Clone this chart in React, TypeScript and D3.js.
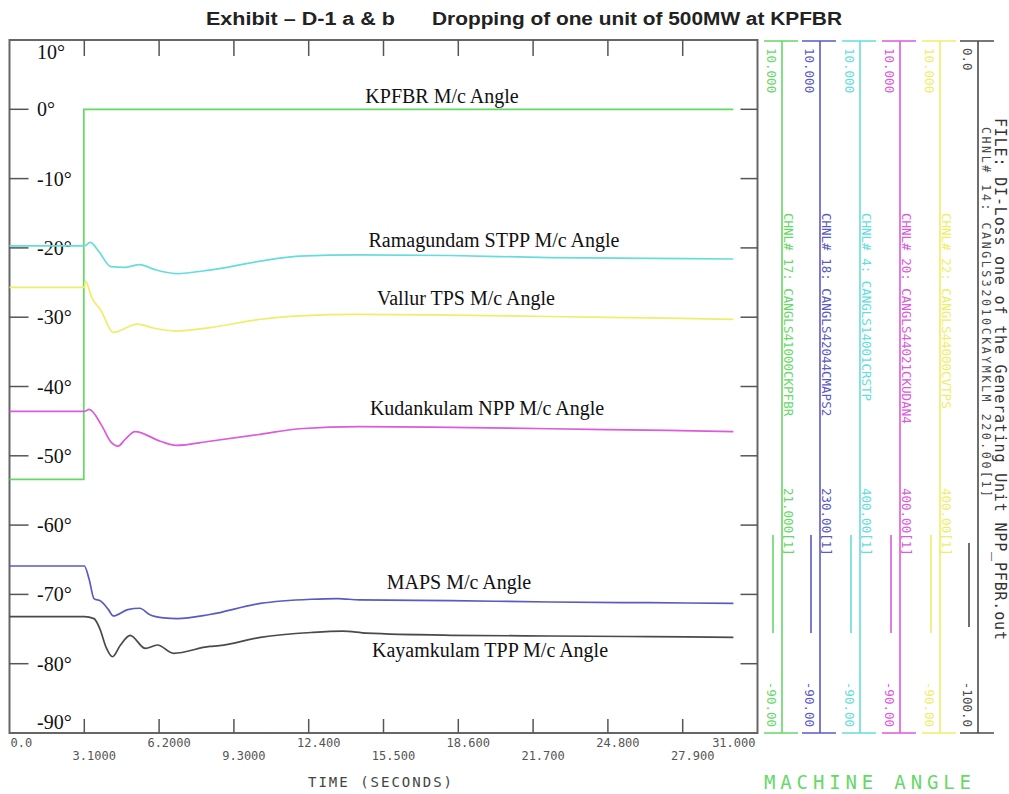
import React from 'react';
import * as d3 from 'd3';

// time axis (seconds) and angle axis (degrees)
const xTickValues = [0, 3.1, 6.2, 9.3, 12.4, 15.5, 18.6, 21.7, 24.8, 27.9, 31];
const xTickLabels = ['0.0', '3.1000', '6.2000', '9.3000', '12.400', '15.500', '18.600', '21.700', '24.800', '27.900', '31.000'];
const yTickValues = [10, 0, -10, -20, -30, -40, -50, -60, -70, -80, -90];

// series
const kpfbrTime = [0, 3.08, 3.08, 30];
const kpfbrAngle = [-53.4, -53.4, 0, 0];

const ramagundamTime = [0, 3.1, 3.35, 3.7, 4.2, 4.8, 5.4, 6.0, 6.9, 8.3, 10.4, 12.0, 14.5, 18.3, 22.4, 26.5, 30];
const ramagundamAngle = [-19.7, -19.7, -19.2, -20.5, -22.7, -22.8, -22.4, -23.1, -23.7, -23.2, -21.9, -21.2, -21.0, -21.1, -21.4, -21.5, -21.6];

const vallurTime = [0, 3.1, 3.15, 3.4, 3.8, 4.3, 5.3, 6.0, 6.9, 8.3, 10.4, 12.0, 14.5, 18.3, 22.4, 26.5, 30];
const vallurAngle = [-25.7, -25.7, -24.8, -27.1, -29.1, -32.2, -31.0, -31.6, -32.0, -31.5, -30.3, -29.8, -29.6, -29.7, -29.9, -30.1, -30.3];

const kudankulamTime = [0, 3.1, 3.3, 3.8, 4.2, 4.5, 4.8, 5.2, 6.25, 6.9, 8.3, 10.4, 12.0, 14.5, 18.3, 22.4, 26.5, 30];
const kudankulamAngle = [-43.6, -43.6, -43.3, -45.5, -48.0, -48.6, -47.6, -46.5, -47.9, -48.5, -47.9, -46.9, -46.1, -45.8, -45.9, -46.1, -46.3, -46.5];

const mapsTime = [0, 3.1, 3.3, 3.5, 3.8, 4.1, 4.3, 4.9, 5.4, 5.8, 6.4, 6.95, 8.3, 10.4, 12.5, 13.6, 14.5, 18.3, 22.4, 26.5, 30];
const mapsAngle = [-65.9, -65.9, -67.8, -70.6, -71.0, -72.2, -73.1, -72.2, -72.0, -72.9, -73.4, -73.5, -72.9, -71.3, -70.7, -70.6, -70.8, -70.9, -71.1, -71.2, -71.3];

const kayamkulamTime = [0, 3.1, 3.5, 3.75, 4.0, 4.27, 4.6, 5.0, 5.63, 6.13, 6.8, 8.3, 8.7, 10.4, 12.5, 13.8, 14.8, 18.3, 22.4, 26.5, 30];
const kayamkulamAngle = [-73.2, -73.2, -73.5, -75.0, -77.6, -79.0, -77.3, -75.9, -77.8, -77.3, -78.5, -77.5, -77.4, -76.2, -75.5, -75.3, -75.6, -75.9, -76.0, -76.1, -76.2];

// right hand channel scales
const channelTop = ['10.000', '10.000', '10.000', '10.000', '10.000', '0.0'];
const channelBottom = ['-90.00', '-90.00', '-90.00', '-90.00', '-90.00', '-100.0'];
const channelNames = [
  'CHNL# 17: CANGLS41000CKPFBR',
  'CHNL# 18: CANGLS42044CMAPS2',
  'CHNL# 4: CANGLS14001CRSTP',
  'CHNL# 20: CANGLS44021CKUDAN4',
  'CHNL# 22: CANGLS44000CVTPS',
  'CHNL# 14: CANGLS32010CKAYMKLM   220.00[1]',
];
const channelBase = ['21.000[1]', '230.00[1]', '400.00[1]', '400.00[1]', '400.00[1]', ''];

const GREEN = '#66d866';
const BLUE = '#5a5ac4';
const CYAN = '#66dcdc';
const MAGENTA = '#dc5adc';
const YELLOW = '#eeee6a';
const BLACK = '#4a4a4a';

const channelColors = [GREEN, BLUE, CYAN, MAGENTA, YELLOW, BLACK];
const channelX = [782, 820, 860, 900, 940, 978];

const series = [
  { label: 'KPFBR M/c Angle', t: kpfbrTime, v: kpfbrAngle, color: GREEN, smooth: false, lx: 442, ly: 103 },
  { label: 'Ramagundam STPP M/c Angle', t: ramagundamTime, v: ramagundamAngle, color: CYAN, smooth: true, lx: 494, ly: 247 },
  { label: 'Vallur TPS M/c Angle', t: vallurTime, v: vallurAngle, color: YELLOW, smooth: true, lx: 466, ly: 305 },
  { label: 'Kudankulam NPP M/c Angle', t: kudankulamTime, v: kudankulamAngle, color: MAGENTA, smooth: true, lx: 487, ly: 415 },
  { label: 'MAPS M/c Angle', t: mapsTime, v: mapsAngle, color: BLUE, smooth: true, lx: 459, ly: 589 },
  { label: 'Kayamkulam TPP M/c Angle', t: kayamkulamTime, v: kayamkulamAngle, color: BLACK, smooth: true, lx: 490, ly: 657 },
];

const W = 1009;
const H = 794;
const left = 9.5;
const right = 757.5;
const top = 40;
const bottom = 733;

const App: React.FC = () => {
  const x = d3.scaleLinear().domain([0, 31]).range([left, right]);
  const y = d3.scaleLinear().domain([-90, 10]).range([bottom, top]);

  const mono = "'DejaVu Sans Mono', 'Liberation Mono', monospace";
  const serif = "'Liberation Serif', 'Times New Roman', serif";

  const makePath = (t: number[], v: number[], smooth: boolean) => {
    const pts = t.map((d, i) => [d, v[i]] as [number, number]);
    const line = d3
      .line<[number, number]>()
      .x((d) => x(d[0]))
      .y((d) => y(d[1]))
      .curve(smooth ? d3.curveMonotoneX : d3.curveLinear);
    return line(pts) || '';
  };

  const inner = xTickValues.slice(1, -1);
  const innerY = yTickValues.slice(1, -1);

  return (
    <svg width={W} height={H} style={{ position: 'absolute', left: 0, top: 0, background: '#fff' }}>
      {/* Title */}
      <g fontFamily="'Liberation Sans Narrow', 'Arial Narrow', 'Liberation Sans', Arial, sans-serif" fontWeight="bold" fontSize={18} fill="#222">
        <text x={206} y={25} textLength={189} lengthAdjust="spacingAndGlyphs">Exhibit – D-1 a &amp; b</text>
        <text x={432} y={25} textLength={410} lengthAdjust="spacingAndGlyphs">Dropping of one unit of 500MW at KPFBR</text>
      </g>

      {/* Frame */}
      <rect x={left} y={top} width={right - left} height={bottom - top} fill="none" stroke="#666" strokeWidth={2} />

      {/* Ticks */}
      <g stroke="#555" strokeWidth={1.5}>
        {inner.map((d) => (
          <line key={'tt' + d} x1={x(d)} x2={x(d)} y1={top} y2={top + 16} />
        ))}
        {inner.map((d) => (
          <line key={'bt' + d} x1={x(d)} x2={x(d)} y1={bottom} y2={bottom - 14} />
        ))}
        {innerY.map((d) => (
          <line key={'lt' + d} x1={left} x2={left + 19} y1={y(d)} y2={y(d)} />
        ))}
        {innerY.map((d) => (
          <line key={'rt' + d} x1={right} x2={right - 17} y1={y(d)} y2={y(d)} />
        ))}
      </g>

      {/* Y tick labels */}
      <g fontFamily={serif} fontSize={20} fill="#111">
        {yTickValues.map((d) => {
          const yy = d === 10 ? y(d) + 12 : d === -90 ? y(d) - 11 : y(d);
          return (
            <text key={'yl' + d} x={37} y={yy + 7}>
              {d}°
            </text>
          );
        })}
      </g>

      {/* X tick labels */}
      <g fontFamily={mono} fontSize={12} fill="#555">
        {xTickValues.map((d, i) => {
          const anchor = i === 0 ? 'start' : i === xTickValues.length - 1 ? 'end' : 'middle';
          const xx = i === 0 ? x(d) + 1 : i === xTickValues.length - 1 ? x(d) - 2 : x(d) + 10;
          const yy = i % 2 === 0 ? 747 : 760;
          return (
            <text key={'xl' + d} x={xx} y={yy} textAnchor={anchor}>
              {xTickLabels[i]}
            </text>
          );
        })}
        <text x={308} y={787} fontSize={14} textLength={144} fill="#444">TIME (SECONDS)</text>
      </g>

      {/* Curves */}
      <g fill="none" strokeWidth={1.7}>
        {series.map((s) => (
          <path key={s.label} d={makePath(s.t, s.v, s.smooth)} stroke={s.color} />
        ))}
      </g>

      {/* Curve labels */}
      <g fontFamily={serif} fontSize={20} fill="#111" textAnchor="middle">
        {series.map((s) => (
          <text key={'lab' + s.label} x={s.lx} y={s.ly}>
            {s.label}
          </text>
        ))}
      </g>

      {/* Right hand channel scales */}
      {channelX.map((cx, i) => {
        const c = channelColors[i];
        const isLast = i === channelX.length - 1;
        return (
          <g key={'ch' + i} fill={c} fontFamily={mono} fontSize={12.5}>
            <line x1={cx} x2={cx} y1={top + 1} y2={bottom} stroke={c} strokeWidth={1.6} />
            <line x1={cx - 18} x2={cx + 16} y1={top + 1} y2={top + 1} stroke={c} strokeWidth={1.6} />
            <line x1={cx - 18} x2={cx + 16} y1={bottom} y2={bottom} stroke={c} strokeWidth={1.6} />
            <line x1={cx - 9} x2={cx - 9} y1={isLast ? 543 : 535} y2={isLast ? 627 : 633} stroke={c} strokeWidth={1.6} />
            <text transform={`translate(${cx - 15},48) rotate(90)`}>{channelTop[i]}</text>
            <text transform={`translate(${cx - 15},727) rotate(90)`} textAnchor="end">{channelBottom[i]}</text>
            {isLast ? (
              <text transform={`translate(${cx + 4},127) rotate(90)`} fontSize={11.5} textLength={370}>{channelNames[i]}</text>
            ) : (
              <text transform={`translate(${cx + 2},213) rotate(90)`}>{channelNames[i]}</text>
            )}
            {channelBase[i] && (
              <text transform={`translate(${cx + 2},488) rotate(90)`}>{channelBase[i]}</text>
            )}
          </g>
        );
      })}
      <text transform="translate(995,118) rotate(90)" fontFamily={mono} fontSize={15} fill="#333" textLength={522}>
        FILE: DI-Loss one of the Generating Unit NPP_PFBR.out
      </text>

      <text x={764} y={789} fontFamily={mono} fontSize={19} fill={GREEN} textLength={207}>
        MACHINE ANGLE
      </text>
    </svg>
  );
};

export default App;
